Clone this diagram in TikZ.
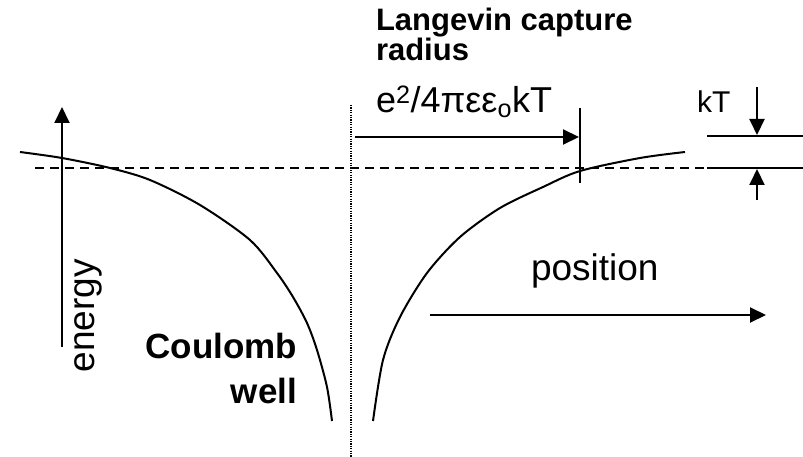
\documentclass[tikz,border=0pt]{standalone}
\usepackage{fontspec}
\setmainfont{Liberation Sans}
\usetikzlibrary{arrows.meta}
\tikzstyle{plain}=[inner sep=0pt,font=\fontsize{37}{45}\selectfont]
\tikzstyle{heavy}=[inner sep=0pt,font=\fontsize{35}{45}\selectfont\bfseries]
\tikzstyle{dgraph}=[-{Triangle[length=16pt,width=15pt]}, line width=2pt]
\tikzstyle{level}=[line width=2pt,dash pattern=on 9pt off 6pt]

\begin{document}
\begin{tikzpicture}[x=1pt,y=-1pt,line width=2pt]
\useasboundingbox (0,0) rectangle (803,457);
% axis between the two halves
\draw[line width=1.2pt,dash pattern=on 1.2pt off 1.2pt] (351,105) -- (351,457);
% kT level and the capture energy
\draw[level] (35,168) -- (707,168);
\coordinate (L0) at (707,136); \coordinate (L1) at (803,136);
\coordinate (M0) at (707,168); \coordinate (M1) at (803,168);
\draw (L0)--(L1); \draw (M0)--(M1);
% Coulomb well
\draw plot[smooth] coordinates {(20,152) (62,158) (110,168) (150,180) (200,205) (250,240) (277,273) (293,297) (307,323) (317,350) (327,387) (332,421)};
\draw plot[smooth] coordinates {(373,421) (383,360) (400,317) (427,273) (460,237) (500,208) (543,187) (580,171) (640,158) (685,152)};
% labels
\node[plain,rotate=90] (energy) at (88,316) {energy};
\node[heavy,align=right,anchor=north east] (well) at (298,332) {Coulomb\\well};
\node[heavy,anchor=base west,font=\fontsize{31}{30}\selectfont\bfseries] (lang) at (375,31) {Langevin capture};
\node[heavy,anchor=base west,font=\fontsize{31}{30}\selectfont\bfseries] (radius) at (375,61) {radius};
\node[inner sep=0pt,anchor=base west,font=\fontsize{36}{36}\selectfont] (rad) at (375,113) {e\textsuperscript{2}/4πεε\textsubscript{o}kT};
\node[inner sep=0pt,anchor=base west,font=\fontsize{30}{30}\selectfont] (kT) at (696,113) {kT};
\node[plain,anchor=base west] (pos) at (530,280) {position};
% arrows
\coordinate (E0) at (62,347); \coordinate (E1) at (62,107);
\draw[dgraph] (E0)--(E1);
\coordinate (P0) at (430,315); \coordinate (P1) at (766,315);
\draw[dgraph] (P0)--(P1);
\coordinate (R0) at (355,137); \coordinate (R1) at (579,137);
\draw[dgraph] (R0)--(R1);
\coordinate (T0) at (580,108); \coordinate (T1) at (580,183);
\draw (T0)--(T1);
\coordinate (K0) at (757,87); \coordinate (K1) at (757,135);
\draw[dgraph] (K0)--(K1);
\coordinate (U0) at (757,200); \coordinate (U1) at (757,169);
\draw[dgraph] (U0)--(U1);
\end{tikzpicture}
\end{document}
